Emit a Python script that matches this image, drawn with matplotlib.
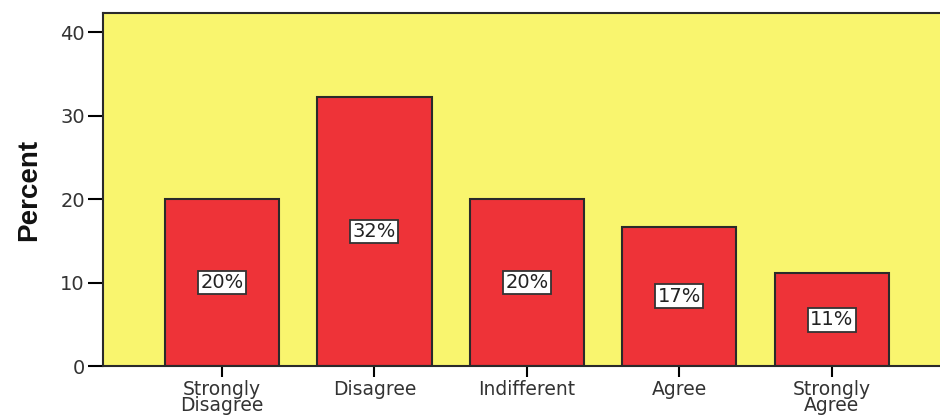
import matplotlib
matplotlib.use("Agg")
import matplotlib.pyplot as plt

categories = ["Strongly\nDisagree", "Disagree", "Indifferent", "Agree", "Strongly\nAgree"]
values = [20.0, 32.2, 20.0, 16.7, 11.1]
labels = ["20%", "32%", "20%", "17%", "11%"]
yticks = [0, 10, 20, 30, 40]

plt.rcParams['font.family'] = ['DejaVu Sans']

fig = plt.figure(figsize=(9.4, 4.18), dpi=100)
ax = fig.add_axes([103/940, 1-366/418, 1-103/940, (366-13)/418])
ax.set_facecolor("#F9F56E")
x = list(range(len(categories)))
ax.bar(x, values, width=0.75, color="#EE3338", edgecolor="#2a2a2a", linewidth=1.5, zorder=2)
for xi, v, lab in zip(x, values, labels):
    ax.text(xi, v/2, lab, ha="center", va="center", fontsize=14, color="#222222",
            bbox=dict(boxstyle="square,pad=0.12", facecolor="white", edgecolor="#333333", linewidth=1.3), zorder=3)

ax.set_xlim(-0.78, 4.71)
ax.set_ylim(0, 42.3)
ax.set_yticks(yticks)
ax.set_xticks(x)
ax.set_xticklabels(categories, fontsize=13.5, color="#333333", linespacing=0.8)
ax.tick_params(axis='y', labelsize=14, labelcolor="#333333", length=11, width=1.5, direction='out', pad=2)
ax.tick_params(axis='x', length=8, width=1.5, direction='out', pad=2)
for s in ["left", "top", "bottom"]:
    ax.spines[s].set_linewidth(1.5)
    ax.spines[s].set_color("#2a2a2a")
ax.spines["right"].set_visible(False)
ax.set_ylabel("Percent", fontsize=20, fontweight="bold", color="#111111",
              family=["Liberation Sans", "DejaVu Sans"])
ax.yaxis.set_label_coords(-0.073, 0.5)
fig.savefig("out.png", dpi=100)
